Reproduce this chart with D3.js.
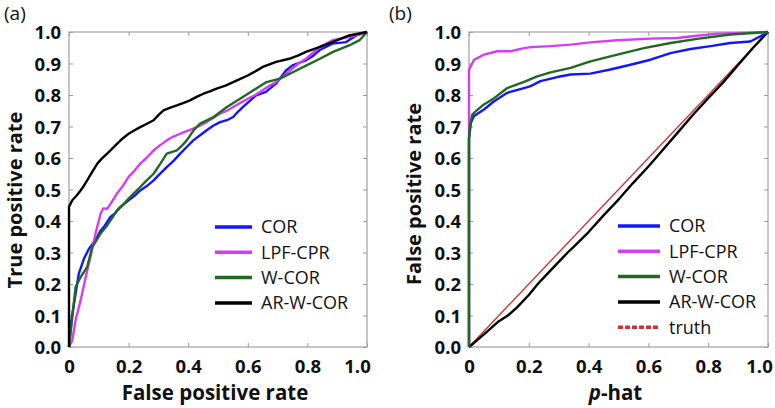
<!DOCTYPE html>
<html><head><meta charset="utf-8">
<script src="https://cdn.jsdelivr.net/npm/d3@7"></script>
<style>body{margin:0;background:#fff}svg{display:block}</style>
</head><body>
<svg id="c" width="775" height="408"></svg>
<script>
// ---- data ----
const seriesNames = ["COR", "LPF-CPR", "W-COR", "AR-W-COR"];
const seriesColors = ["#1414ff", "#d63cf5", "#1e6a1e", "#000000"];
const xTicks = [0, 0.2, 0.4, 0.6, 0.8, 1.0];
const xTickLabels = ["0", "0.2", "0.4", "0.6", "0.8", "1.0"];
const yTicks = [0, 0.1, 0.2, 0.3, 0.4, 0.5, 0.6, 0.7, 0.8, 0.9, 1.0];
const yTickLabels = ["0.0","0.1","0.2","0.3","0.4","0.5","0.6","0.7","0.8","0.9","1.0"];

// panel (a): ROC curves [false positive rate, true positive rate]
const rocCOR = [[0,0],[0.008,0.085],[0.022,0.169],[0.033,0.233],[0.05,0.28],[0.067,0.312],[0.089,0.339],[0.106,0.37],[0.12,0.385],[0.139,0.413],[0.155,0.425],[0.172,0.444],[0.2,0.466],[0.22,0.48],[0.239,0.497],[0.26,0.51],[0.284,0.529],[0.3,0.545],[0.328,0.571],[0.35,0.59],[0.373,0.614],[0.395,0.635],[0.417,0.656],[0.44,0.672],[0.462,0.688],[0.485,0.703],[0.507,0.714],[0.53,0.72],[0.551,0.73],[0.565,0.745],[0.584,0.762],[0.605,0.78],[0.628,0.799],[0.661,0.81],[0.68,0.825],[0.695,0.836],[0.71,0.855],[0.728,0.878],[0.75,0.894],[0.795,0.91],[0.82,0.925],[0.84,0.942],[0.884,0.963],[0.93,0.968],[0.964,0.989],[1,1]];
const rocLPF = [[0,0],[0.011,0.021],[0.022,0.085],[0.039,0.148],[0.056,0.222],[0.072,0.286],[0.089,0.36],[0.106,0.423],[0.115,0.44],[0.128,0.439],[0.14,0.455],[0.161,0.487],[0.18,0.51],[0.2,0.54],[0.22,0.56],[0.239,0.582],[0.26,0.6],[0.284,0.624],[0.305,0.64],[0.328,0.656],[0.35,0.668],[0.373,0.677],[0.395,0.685],[0.417,0.693],[0.44,0.703],[0.462,0.714],[0.485,0.728],[0.507,0.741],[0.53,0.75],[0.551,0.762],[0.575,0.775],[0.6,0.788],[0.625,0.8],[0.65,0.815],[0.67,0.828],[0.695,0.841],[0.72,0.86],[0.75,0.884],[0.77,0.9],[0.795,0.915],[0.82,0.935],[0.84,0.952],[0.86,0.962],[0.884,0.974],[0.94,0.984],[1,1]];
const rocWCOR = [[0,0],[0.011,0.095],[0.022,0.19],[0.039,0.222],[0.061,0.254],[0.078,0.317],[0.106,0.36],[0.128,0.386],[0.145,0.41],[0.161,0.434],[0.18,0.45],[0.2,0.471],[0.22,0.49],[0.239,0.508],[0.26,0.528],[0.284,0.55],[0.305,0.58],[0.328,0.614],[0.362,0.624],[0.38,0.64],[0.395,0.656],[0.42,0.69],[0.44,0.709],[0.485,0.73],[0.53,0.762],[0.574,0.788],[0.619,0.815],[0.663,0.841],[0.708,0.852],[0.753,0.873],[0.797,0.894],[0.842,0.915],[0.886,0.937],[0.942,0.958],[0.975,0.974],[1,1]];
const rocARWCOR = [[0,0],[0,0.445],[0.011,0.466],[0.025,0.48],[0.039,0.497],[0.05,0.512],[0.061,0.529],[0.078,0.556],[0.095,0.582],[0.11,0.598],[0.128,0.614],[0.145,0.63],[0.161,0.645],[0.18,0.662],[0.2,0.677],[0.22,0.688],[0.239,0.698],[0.26,0.708],[0.284,0.72],[0.3,0.736],[0.317,0.751],[0.34,0.76],[0.362,0.767],[0.385,0.775],[0.406,0.783],[0.43,0.795],[0.451,0.804],[0.475,0.812],[0.495,0.82],[0.525,0.83],[0.551,0.841],[0.575,0.851],[0.6,0.862],[0.625,0.875],[0.65,0.889],[0.675,0.898],[0.695,0.905],[0.739,0.915],[0.77,0.926],[0.795,0.937],[0.84,0.952],[0.884,0.968],[0.94,0.989],[1,1]];

// panel (b): [p-hat, false positive rate]
const calCOR = [[0,0],[0,0.66],[0.006,0.711],[0.017,0.733],[0.05,0.754],[0.084,0.78],[0.128,0.807],[0.184,0.822],[0.206,0.828],[0.239,0.844],[0.295,0.857],[0.34,0.865],[0.406,0.868],[0.473,0.881],[0.54,0.896],[0.607,0.912],[0.674,0.933],[0.741,0.946],[0.808,0.955],[0.874,0.965],[0.941,0.97],[0.974,0.986],[1,1]];
const calLPF = [[0,0],[0,0.88],[0.003,0.886],[0.017,0.912],[0.05,0.928],[0.095,0.939],[0.139,0.939],[0.184,0.949],[0.206,0.952],[0.273,0.955],[0.34,0.96],[0.406,0.967],[0.496,0.974],[0.607,0.979],[0.696,0.981],[0.763,0.988],[0.83,0.995],[0.919,0.997],[1,1]];
const calWCOR = [[0,0],[0,0.659],[0.003,0.7],[0.011,0.738],[0.022,0.748],[0.05,0.77],[0.084,0.79],[0.128,0.822],[0.184,0.842],[0.228,0.859],[0.273,0.872],[0.34,0.886],[0.406,0.907],[0.496,0.928],[0.585,0.949],[0.674,0.965],[0.763,0.978],[0.874,0.992],[1,1]];
const calARWCOR = [[0,0],[0.05,0.04],[0.1,0.082],[0.13,0.1],[0.16,0.125],[0.2,0.165],[0.23,0.2],[0.25,0.22],[0.3,0.27],[0.33,0.3],[0.35,0.318],[0.4,0.365],[0.45,0.418],[0.5,0.468],[0.55,0.522],[0.6,0.573],[0.65,0.628],[0.7,0.683],[0.75,0.738],[0.8,0.79],[0.85,0.84],[0.9,0.895],[0.95,0.95],[1,1]];
const truth = [[0,0],[1,1]];

// ---- drawing ----
const svg = d3.select("#c");
const FONT = "'Open Sans', sans-serif";

function panel(opt){
  const x = d3.scaleLinear().domain([0,1]).range([opt.x0, opt.x1]);
  const y = d3.scaleLinear().domain([0,1]).range([opt.y1, opt.y0]);
  const g = svg.append("g");
  const ax = [
    [d3.axisBottom(x).tickValues(xTicks).tickSize(-4).tickFormat((d,i)=>xTickLabels[i]), `translate(0,${opt.y1})`],
    [d3.axisTop(x).tickValues(xTicks).tickSize(-4).tickFormat(""), `translate(0,${opt.y0})`],
    [d3.axisLeft(y).tickValues(yTicks).tickSize(-4).tickFormat((d,i)=>yTickLabels[i]), `translate(${opt.x0},0)`],
    [d3.axisRight(y).tickValues(yTicks).tickSize(-4).tickFormat(""), `translate(${opt.x1},0)`]
  ];
  ax.forEach(([a,t],k)=>{
    const ga = g.append("g").attr("transform", t).call(a);
    ga.select(".domain").remove();
    ga.selectAll(".tick line").attr("stroke","#999");
    ga.selectAll(".tick text").attr("font-family",FONT).attr("font-weight","bold")
      .attr("font-size","18.5px").attr("fill","#111");
    if(k===0){
      ga.selectAll(".tick text").attr("dy","0").attr("y",26)
        .attr("dx",(d,i)=> i===xTicks.length-1 ? opt.lastDx : 0);
    }
    if(k===2) ga.selectAll(".tick text").attr("x",-8).attr("dy","0.36em");
  });
  g.append("rect").attr("x",opt.x0).attr("y",opt.y0).attr("width",opt.x1-opt.x0).attr("height",opt.y1-opt.y0)
    .attr("fill","none").attr("stroke","#a0a0a0").attr("stroke-width",1.2);
  const line = d3.line().x(d=>x(d[0])).y(d=>y(d[1]));
  const clipId = "clip"+opt.id;
  svg.append("clipPath").attr("id",clipId).append("rect")
    .attr("x",opt.x0-2).attr("y",opt.y0-2).attr("width",opt.x1-opt.x0+4).attr("height",opt.y1-opt.y0+4);
  const lg = g.append("g").attr("clip-path",`url(#${clipId})`);
  opt.series.forEach(s=>{
    lg.append("path").datum(s.data).attr("d",line).attr("fill","none")
      .attr("stroke",s.color).attr("stroke-width",s.width||2.4).attr("stroke-linejoin","round");
  });
  opt.legend.forEach((s,i)=>{
    const yy = opt.ly + i*25.3;
    g.append("line").attr("x1",opt.lx).attr("x2",opt.lx+opt.lw).attr("y1",yy).attr("y2",yy)
      .attr("stroke",s.color).attr("stroke-width",3.5).attr("stroke-dasharray",s.dash||null);
    g.append("text").attr("x",opt.lx+opt.lw+9).attr("y",yy).attr("dy","0.36em")
      .attr("font-family",FONT).attr("font-size","18px").attr("fill","#111").text(s.name);
  });
  const xt = g.append("text").attr("x",(opt.x0+opt.x1)/2 - 3).attr("y",400).attr("text-anchor","middle")
    .attr("font-family",FONT).attr("font-weight","bold").attr("font-size","20.5px").attr("fill","#111");
  opt.xTitle(xt);
  g.append("text").attr("transform",`translate(${opt.ytx},${opt.yty}) rotate(-90)`)
    .attr("text-anchor","middle").attr("font-family",FONT).attr("font-weight","bold")
    .attr("font-size","20px").attr("fill","#111").text(opt.yTitle);
  g.append("text").attr("x",opt.tagX).attr("y",20).attr("font-family",FONT)
    .attr("font-size","19px").attr("fill","#111").text(opt.tag);
}

panel({id:"a", x0:69, x1:367, y0:32, y1:347, tag:"(a)", tagX:4, ytx:22, yty:200, lastDx:-10,
  yTitle:"True positive rate",
  xTitle: t=>t.text("False positive rate"),
  series:[
    {data:rocCOR,color:seriesColors[0]},
    {data:rocLPF,color:seriesColors[1]},
    {data:rocWCOR,color:seriesColors[2]},
    {data:rocARWCOR,color:seriesColors[3]}
  ],
  legend: seriesNames.map((n,i)=>({name:n,color:seriesColors[i]})),
  lx:215, lw:37, ly:227});

panel({id:"b", x0:469, x1:768, y0:32, y1:347, tag:"(b)", tagX:389, ytx:421, yty:194, lastDx:-9,
  yTitle:"False positive rate",
  xTitle: t=>{t.append("tspan").attr("font-style","italic").text("p"); t.append("tspan").text("-hat");},
  series:[
    {data:truth,color:"#cc3333",width:1.4},
    {data:calARWCOR,color:seriesColors[3]},
    {data:calCOR,color:seriesColors[0]},
    {data:calLPF,color:seriesColors[1]},
    {data:calWCOR,color:seriesColors[2]}
  ],
  legend: seriesNames.map((n,i)=>({name:n,color:seriesColors[i]})).concat([{name:"truth",color:"#cc3333",dash:"5,2"}]),
  lx:618, lw:42, ly:226});
</script>
</body></html>
